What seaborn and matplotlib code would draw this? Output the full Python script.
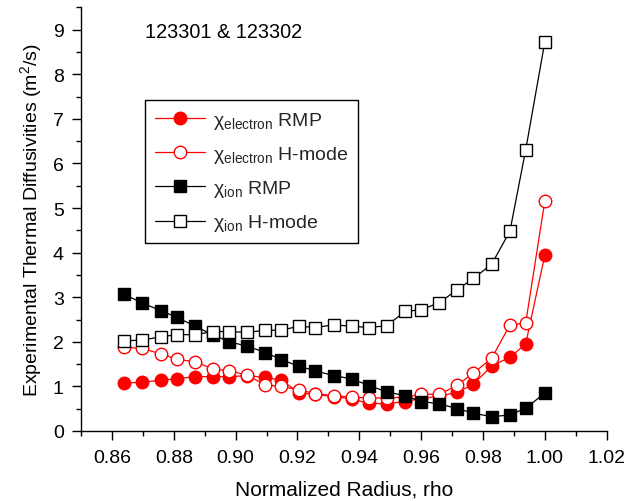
import matplotlib
matplotlib.use("Agg")
import matplotlib.pyplot as plt
from matplotlib.ticker import MultipleLocator, FormatStrFormatter
import seaborn as sns
import pandas as pd

rho = [0.8638, 0.8698, 0.8758, 0.8809, 0.8870, 0.8927, 0.8980, 0.9038, 0.9096,
       0.9148, 0.9205, 0.9258, 0.9317, 0.9375, 0.9431, 0.9488, 0.9548, 0.9601,
       0.9659, 0.9717, 0.9769, 0.9828, 0.9887, 0.9938, 1.0000]

chi_e_rmp = [1.08, 1.09, 1.14, 1.17, 1.22, 1.22, 1.22, 1.24, 1.20, 1.14, 0.86, 0.82,
             0.77, 0.72, 0.62, 0.61, 0.66, 0.73, 0.78, 0.87, 1.05, 1.46, 1.65, 1.95, 3.95]
chi_e_h = [1.88, 1.85, 1.73, 1.61, 1.55, 1.39, 1.35, 1.25, 1.03, 1.00, 0.92, 0.84,
           0.79, 0.76, 0.74, 0.74, 0.76, 0.83, 0.82, 1.03, 1.30, 1.63, 2.38, 2.42, 5.16]
chi_i_rmp = [3.07, 2.87, 2.70, 2.55, 2.35, 2.15, 2.00, 1.90, 1.76, 1.60, 1.45, 1.35,
             1.24, 1.17, 1.02, 0.88, 0.79, 0.66, 0.61, 0.50, 0.40, 0.32, 0.36, 0.51, 0.85]
chi_i_h = [2.02, 2.04, 2.11, 2.16, 2.16, 2.23, 2.23, 2.21, 2.26, 2.26, 2.35, 2.32,
           2.38, 2.35, 2.32, 2.36, 2.68, 2.72, 2.88, 3.17, 3.42, 3.74, 4.48, 6.30, 8.73]

labels = [r"χ$_{\mathrm{electron}}$ RMP", r"χ$_{\mathrm{electron}}$ H-mode",
          r"χ$_{\mathrm{ion}}$ RMP", r"χ$_{\mathrm{ion}}$ H-mode"]
title_text = "123301 & 123302"
xlabel = "Normalized Radius, rho"
ylabel = r"Experimental Thermal Diffusivities (m$^2$/s)"

sns.set_theme(style="ticks")
plt.rcParams["font.family"] = ["Liberation Sans", "DejaVu Sans"]
plt.rcParams["mathtext.fontset"] = "custom"
plt.rcParams["mathtext.rm"] = "Liberation Sans"
plt.rcParams["mathtext.it"] = "Liberation Sans:italic"

fig = plt.figure(figsize=(6.26, 5.02), dpi=100)
ax = fig.add_axes([81 / 626, 1 - 432 / 502, (606.7 - 81) / 626, (432 - 8.3) / 502])

series = [
    (chi_e_rmp, "red", "o", "red", 9),
    (chi_e_h, "red", "o", "white", 9),
    (chi_i_rmp, "black", "s", "black", 8),
    (chi_i_h, "black", "s", "white", 8),
]
for (vals, col, mk, face, ms), lab in zip(series, labels):
    df = pd.DataFrame({"rho": rho, "chi": vals})
    sns.lineplot(data=df, x="rho", y="chi", ax=ax, color=col, marker=mk,
                 markersize=ms, markerfacecolor=face, markeredgecolor=col,
                 markeredgewidth=1.0, linewidth=0.9, estimator=None,
                 sort=False, label=lab)

ax.set_xlim(0.85, 1.02)
ax.set_ylim(0, 9.5)
ax.xaxis.set_major_locator(MultipleLocator(0.02))
ax.xaxis.set_minor_locator(MultipleLocator(0.01))
ax.xaxis.set_major_formatter(FormatStrFormatter("%.2f"))
ax.yaxis.set_major_locator(MultipleLocator(1))
ax.yaxis.set_minor_locator(MultipleLocator(0.5))
ax.set_xticks([0.86, 0.88, 0.90, 0.92, 0.94, 0.96, 0.98, 1.00, 1.02])

for s in ["top", "right"]:
    ax.spines[s].set_visible(False)
for s in ["left", "bottom"]:
    ax.spines[s].set_color("black")
    ax.spines[s].set_linewidth(1.0)

ax.tick_params(axis="both", which="major", direction="out", length=6.5, width=1.0,
               color="black", labelsize=14, labelcolor="black")
ax.tick_params(axis="both", which="minor", direction="out", length=3.5, width=1.0,
               color="black")
ax.tick_params(axis="y", which="major", pad=6)
ax.tick_params(axis="x", which="major", pad=6.5)

ax.set_xlabel(xlabel, fontsize=15, color="black", labelpad=10)
ax.set_ylabel(ylabel, fontsize=14, color="black", labelpad=6)

leg = ax.legend(loc="upper left", bbox_to_anchor=(145 / 626, 1 - 101 / 502),
                bbox_transform=fig.transFigure, borderaxespad=0, fontsize=14,
                numpoints=1, handlelength=2.6, frameon=True, fancybox=False,
                framealpha=1, edgecolor="black", labelspacing=0.68,
                handletextpad=0.4, borderpad=0.5)
leg.get_frame().set_linewidth(1.0)

fig.text(145 / 626, 1 - 33 / 502, title_text, fontsize=14.3, va="center",
         ha="left", color="black")

fig.savefig("out.png", dpi=100, facecolor="white")
